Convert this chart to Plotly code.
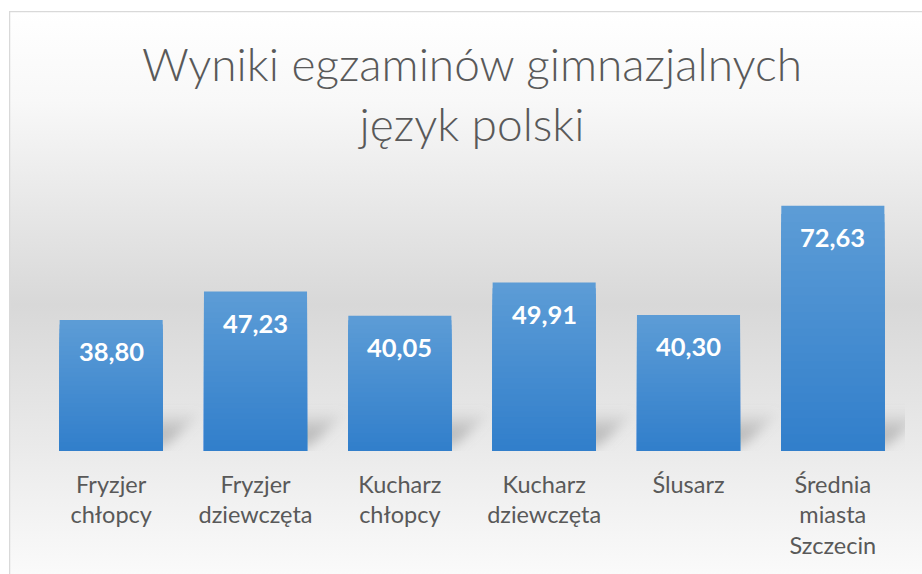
import base64
import plotly.graph_objects as go

# ---- data ----
categories = ["Fryzjer<br>chłopcy", "Fryzjer<br>dziewczęta", "Kucharz<br>chłopcy",
              "Kucharz<br>dziewczęta", "Ślusarz", "Średnia<br>miasta<br>Szczecin"]
values = [38.80, 47.23, 40.05, 49.91, 40.30, 72.63]
title_text = "Wyniki egzaminów gimnazjalnych<br>język polski"

# ---- layout geometry ----
W, H = 922, 574
ML, MR, MT, MB = 39, 17, 181, 123
PW, PH = W - ML - MR, H - MT - MB
YMAX = 80


def px_x(p):
    return (p - ML) / PW


def px_y(p):
    return (H - MB - p) / PH


def svg_uri(svg):
    return "data:image/svg+xml;base64," + base64.b64encode(svg.encode("utf-8")).decode()


bg_svg = (
    '<svg xmlns="http://www.w3.org/2000/svg" width="940" height="600" viewBox="0 0 940 600" preserveAspectRatio="none">'
    '<defs><linearGradient id="g" x1="0" y1="0" x2="0" y2="1">'
    '<stop offset="0" stop-color="#ffffff"/><stop offset="0.15" stop-color="#f8f8f8"/>'
    '<stop offset="0.49" stop-color="#d8d8d8"/><stop offset="1" stop-color="#ffffff"/>'
    '</linearGradient></defs>'
    '<rect x="0.5" y="0.5" width="939" height="599" fill="url(#g)" stroke="#d9d9d9" stroke-width="1.5"/>'
    '</svg>'
)

shadow_svg = (
    '<svg xmlns="http://www.w3.org/2000/svg" width="160" height="50" viewBox="0 0 160 50" preserveAspectRatio="none">'
    '<defs><filter id="b" x="-20%" y="-50%" width="140%" height="200%"><feGaussianBlur stdDeviation="6"/></filter>'
    '<linearGradient id="s" x1="0" y1="0" x2="0" y2="1">'
    '<stop offset="0" stop-color="#909090" stop-opacity="0.05"/>'
    '<stop offset="0.6" stop-color="#909090" stop-opacity="0.55"/>'
    '<stop offset="1" stop-color="#909090" stop-opacity="0.3"/></linearGradient></defs>'
    '<polygon points="0,46 103,46 142,10 39,10" fill="url(#s)" filter="url(#b)"/>'
    '</svg>'
)

fig = go.Figure()

# gradient bars: overlaid bars, tallest (lightest) first
N = 30
top_c = (0x5c, 0x9c, 0xd6)
bot_c = (0x32, 0x7f, 0xcb)
for k in range(N):
    f = (N - k) / N
    t = k / (N - 1)
    c = tuple(round(top_c[j] + (bot_c[j] - top_c[j]) * t) for j in range(3))
    fig.add_trace(go.Bar(
        x=categories, y=[v * f for v in values],
        marker=dict(color="rgb(%d,%d,%d)" % c, line=dict(width=0)),
        width=0.714, hoverinfo="skip", showlegend=False,
    ))

images = [dict(source=svg_uri(bg_svg), xref="paper", yref="paper",
               x=px_x(9), y=px_y(11), sizex=940 / PW, sizey=600 / PH,
               xanchor="left", yanchor="top", sizing="stretch", layer="below")]
bar_px = PW / len(categories)
for i, v in enumerate(values):
    images.append(dict(source=svg_uri(shadow_svg), xref="x", yref="y",
                       x=i - 0.357, y=-2 / (PH / YMAX), sizex=160 / bar_px, sizey=50 / (PH / YMAX),
                       xanchor="left", yanchor="bottom", sizing="stretch", layer="below"))

annotations = [dict(x=c, y=v, text=("%.2f" % v).replace(".", ","), showarrow=False,
                    yanchor="middle", yshift=-31,
                    font=dict(family="Lato", size=25.5, color="white", weight="bold"))
               for c, v in zip(categories, values)]

fig.update_layout(
    width=W, height=H,
    margin=dict(l=ML, r=MR, t=MT, b=MB),
    paper_bgcolor="white", plot_bgcolor="rgba(0,0,0,0)",
    barmode="overlay",
    title=dict(text=title_text, x=472 / W, xref="container", xanchor="center",
               y=1 - 81 / H, yref="container", yanchor="top",
               font=dict(family="Lato", size=46, color="#595959", weight=300)),
    xaxis=dict(showgrid=False, showline=False, zeroline=False, ticks="",
               ticklabelstandoff=17,
               tickfont=dict(family="Lato", size=23.5, color="#595959")),
    yaxis=dict(range=[0, YMAX], visible=False, showgrid=False, zeroline=False),
    images=images,
    annotations=annotations,
    showlegend=False,
)

fig.write_html("out.html", config={"displayModeBar": False},
               post_script="document.body.style.margin='0';")
